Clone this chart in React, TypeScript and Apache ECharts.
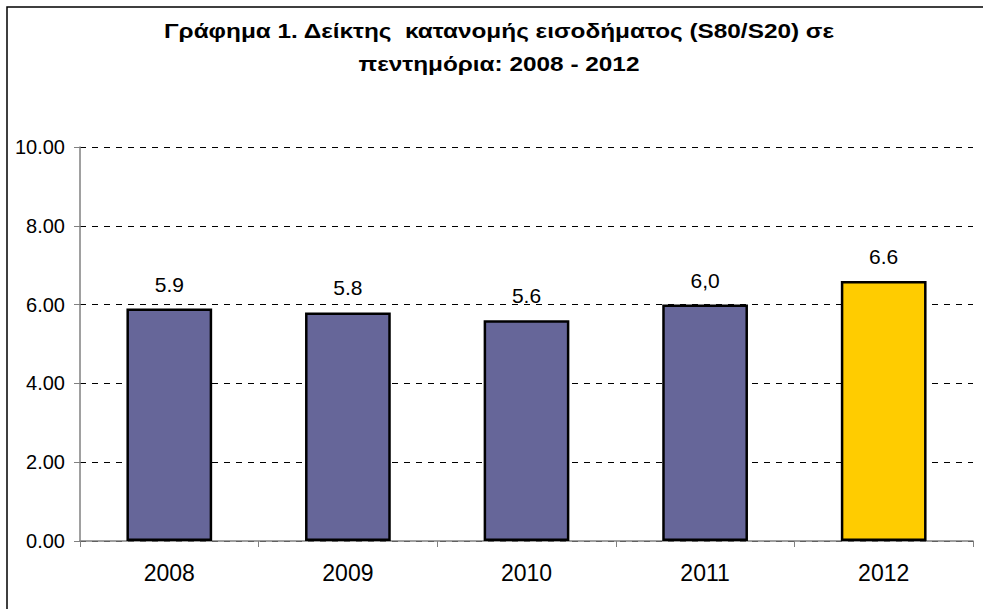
import React, { useEffect, useRef } from "react";
import * as echarts from "echarts";

const categories = ["2008", "2009", "2010", "2011", "2012"];
const values = [5.9, 5.8, 5.6, 6.0, 6.6];
const valueLabels = ["5.9", "5.8", "5.6", "6,0", "6.6"];
const barColors = ["#666699", "#666699", "#666699", "#666699", "#FFCC00"];
const titleLines = [
  "Γράφημα 1. Δείκτης  κατανομής εισοδήματος (S80/S20) σε",
  "πεντημόρια: 2008 - 2012",
];

export default function App() {
  const ref = useRef<HTMLDivElement>(null);
  useEffect(() => {
    if (!ref.current) return;
    const chart = echarts.init(ref.current, null, { renderer: "svg" });
    const font = "'Liberation Sans', Arial, sans-serif";
    const titleY = [31, 64];
    chart.setOption({
      animation: false,
      backgroundColor: "#ffffff",
      graphic: [
        {
          type: "rect",
          shape: { x: 7, y: 7, width: 1200, height: 800 },
          style: { fill: "none", stroke: "#000", lineWidth: 1.5 },
          silent: true,
        },
        ...titleLines.map((t, i) => ({
          type: "text",
          x: 499,
          y: titleY[i],
          scaleX: 1.16,
          style: {
            x: 0,
            y: 0,
            text: t,
            fontFamily: font,
            fontSize: 21,
            fontWeight: "bold",
            fill: "#000",
            align: "center",
            verticalAlign: "middle",
          },
        })),
      ],
      grid: { left: 80, right: 10, top: 147, bottom: 68 },
      xAxis: {
        type: "category",
        data: categories,
        axisLine: { lineStyle: { color: "#808080", width: 1.5 } },
        axisTick: { show: true, length: 6, inside: false, lineStyle: { color: "#808080" } },
        axisLabel: { fontFamily: font, fontSize: 23, color: "#000", margin: 20 },
      },
      yAxis: {
        type: "value",
        min: 0,
        max: 10,
        interval: 2,
        axisLine: { show: true, lineStyle: { color: "#808080", width: 1.5 } },
        axisTick: { show: true, length: 6, lineStyle: { color: "#808080" } },
        axisLabel: {
          fontFamily: font,
          fontSize: 20,
          color: "#000",
          margin: 15,
          formatter: (v: number) => v.toFixed(2),
        },
        splitLine: { show: true, lineStyle: { color: "#000", type: [6, 6], width: 1 } },
      },
      series: [
        {
          type: "bar",
          barWidth: "48%",
          data: values.map((v, i) => ({
            value: v,
            itemStyle: { color: barColors[i], borderColor: "#000", borderWidth: 2.5 },
          })),
          label: {
            show: true,
            position: "top",
            distance: 14,
            fontFamily: font,
            fontSize: 21,
            color: "#000",
            formatter: (p: any) => valueLabels[p.dataIndex],
          },
        },
      ],
    });
    return () => chart.dispose();
  }, []);
  return (
    <div
      ref={ref}
      style={{ position: "fixed", left: 0, top: 0, width: 983, height: 609 }}
    />
  );
}
